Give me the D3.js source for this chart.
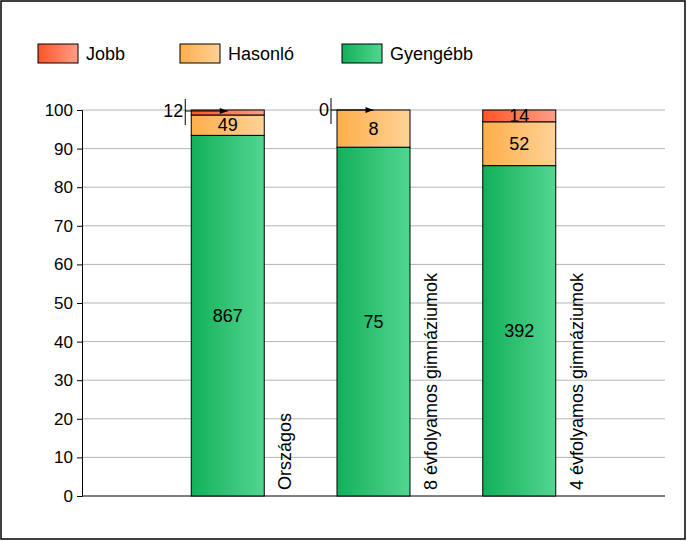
<!DOCTYPE html><html><head><meta charset="utf-8"><script src="https://d3js.org/d3.v7.min.js"></script>
<style>body{margin:0;background:#fff}text{font-family:Arial,"Liberation Sans",sans-serif}</style></head><body>
<svg id="c" width="687" height="541"></svg>
<script>
const categories=["Országos","8 évfolyamos gimnáziumok","4 évfolyamos gimnáziumok"];
const series=["Gyengébb","Hasonló","Jobb"];
const gyengebb=[867,75,392];
const hasonlo=[49,8,52];
const jobb=[12,0,14];
const yTicks=[0,10,20,30,40,50,60,70,80,90,100];
const svg=d3.select("#c");
svg.append("rect").attr("x",1).attr("y",1).attr("width",684).attr("height",538).attr("fill","#fff").attr("stroke","#000").attr("stroke-width",1.5);
const defs=svg.append("defs");
const grads={Gyengébb:["#12b05a","#52d690"],Hasonló:["#ffae4a","#ffd296"],Jobb:["#ff5428","#ff9e86"]};
Object.entries(grads).forEach(([k,c],i)=>{const g=defs.append("linearGradient").attr("id","g"+i);g.append("stop").attr("offset",0).attr("stop-color",c[0]);g.append("stop").attr("offset",1).attr("stop-color",c[1]);});
const gid={Gyengébb:"g0",Hasonló:"g1",Jobb:"g2"};
const x=d3.scaleLinear().domain([0,4]).range([82,665]);
const y=d3.scaleLinear().domain([0,100]).range([496,110]);
const g=svg.append("g");
yTicks.forEach(t=>{if(t>0)g.append("line").attr("x1",82).attr("x2",665).attr("y1",y(t)).attr("y2",y(t)).attr("stroke","#b4b4b4");});
g.append("g").attr("transform","translate(82,0)").call(d3.axisLeft(y).tickValues(yTicks).tickSize(5).tickPadding(4)).call(a=>{a.selectAll("text").attr("font-size",17).attr("fill","#000");a.selectAll("line,path").attr("stroke","#000");});
g.append("line").attr("x1",82).attr("x2",665).attr("y1",496).attr("y2",496).attr("stroke","#000");
const bw=73;
categories.forEach((c,i)=>{
  const vals={Gyengébb:gyengebb[i],Hasonló:hasonlo[i],Jobb:jobb[i]};
  const tot=gyengebb[i]+hasonlo[i]+jobb[i];
  let acc=0;const cx=x(i+1);
  series.forEach(s=>{
    const p=vals[s]/tot*100;const y0=acc,y1=acc+p;acc=y1;
    if(p<=0)return;
    g.append("rect").attr("x",cx-bw/2).attr("width",bw).attr("y",y(y1)).attr("height",y(y0)-y(y1)).attr("fill",`url(#${gid[s]})`).attr("stroke","#000").attr("stroke-width",1);
    if(p>2.5) g.append("text").attr("x",cx).attr("y",(y(y0)+y(y1))/2+6).attr("text-anchor","middle").attr("font-size",18).text(vals[s]);
  });
  if(jobb[i]/tot*100<=2.5){
    const ly=y(100)+(i==0?1:0);const lx=cx-bw/2-6;
    g.append("line").attr("x1",lx).attr("x2",lx).attr("y1",ly-12).attr("y2",ly+14).attr("stroke","#000");
    g.append("line").attr("x1",lx).attr("x2",cx).attr("y1",ly).attr("y2",ly).attr("stroke","#000");
    g.append("path").attr("d",`M${cx},${ly}l-8,-3v6z`).attr("fill","#000");
    g.append("text").attr("x",lx-2).attr("y",ly+6).attr("text-anchor","end").attr("font-size",18).text(jobb[i]);
  }
  g.append("text").attr("transform",`translate(${cx+bw/2+27},490) rotate(-90)`).attr("font-size",18).text(c);
});
const leg=[["Jobb",38],["Hasonló",180],["Gyengébb",342]];
leg.forEach(([s,lx])=>{
  svg.append("rect").attr("x",lx).attr("y",44).attr("width",40).attr("height",19).attr("fill",`url(#${gid[s]})`).attr("stroke","#000");
  svg.append("text").attr("x",lx+48).attr("y",60).attr("font-size",18).text(s);
});
</script></body></html>
